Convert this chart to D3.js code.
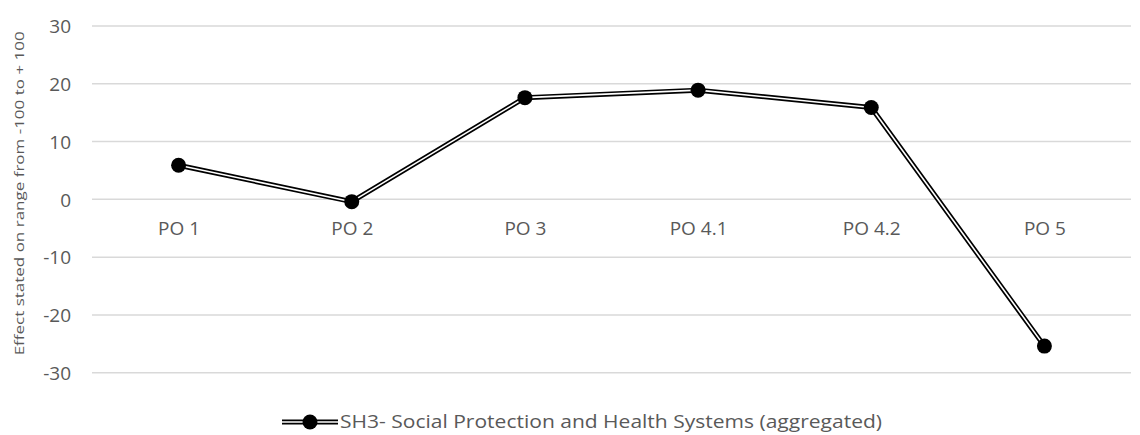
<!DOCTYPE html>
<html>
<head>
<meta charset="utf-8">
<script src="https://cdn.jsdelivr.net/npm/d3@7"></script>
<style>
  html, body { margin: 0; padding: 0; background: #fff; }
  svg { display: block; }
  text { font-family: "Open Sans", "Noto Sans", sans-serif; fill: #595959; }
</style>
</head>
<body>
<svg id="chart" width="1140" height="435"></svg>
<script>
// Programme objectives on the category axis
const categories = ["PO 1", "PO 2", "PO 3", "PO 4.1", "PO 4.2", "PO 5"];
// Aggregated effect per objective, on a -100..+100 scale
const values = [5.9, -0.4, 17.6, 18.9, 15.9, -25.4];
const yTicks = [-30, -20, -10, 0, 10, 20, 30];
const seriesName = "SH3- Social Protection and Health Systems (aggregated)";
const yTitle = "Effect stated on range from -100 to + 100";

const FONT = '"Open Sans", "Noto Sans", sans-serif';
const svg = d3.select("#chart");
const plot = { left: 92, right: 1131, top: 26, bottom: 372.7 };

const x = d3.scalePoint().domain(categories).range([plot.left, plot.right]).padding(0.5);
const y = d3.scaleLinear().domain([-30, 30]).range([plot.bottom, plot.top]);

// Horizontal gridlines
svg.append("g")
  .selectAll("line")
  .data(yTicks)
  .join("line")
  .attr("x1", plot.left).attr("x2", plot.right)
  .attr("y1", d => y(d)).attr("y2", d => y(d))
  .attr("stroke", "#d9d9d9").attr("stroke-width", 1.5);

// Value axis labels (plain hyphen for negatives)
const yAxis = svg.append("g")
  .attr("transform", `translate(${plot.left - 21},0)`)
  .call(d3.axisLeft(y).tickValues(yTicks).tickSize(0).tickPadding(0).tickFormat(d => String(d)));
yAxis.select(".domain").remove();
yAxis.selectAll("text")
  .attr("font-size", 19).attr("fill", "#595959")
  .style("font-family", FONT)
  .attr("dy", "0.35em");

// Category labels sitting just under the zero line
const xAxis = svg.append("g")
  .attr("transform", `translate(0,${y(0)})`)
  .call(d3.axisBottom(x).tickSize(0).tickPadding(0));
xAxis.select(".domain").remove();
xAxis.selectAll("text")
  .attr("font-size", 19).attr("fill", "#595959")
  .style("font-family", FONT)
  .attr("dy", null).attr("y", 36);

// Axis title
svg.append("text")
  .attr("transform", `translate(24,${(plot.top + plot.bottom) / 2 - 6}) rotate(-90)`)
  .attr("text-anchor", "middle")
  .attr("font-size", 13)
  .attr("textLength", 324).attr("lengthAdjust", "spacingAndGlyphs")
  .text(yTitle);

// Series line: black stroke with a white core
const line = d3.line().x((d, i) => x(categories[i])).y(d => y(d));
const series = svg.append("g");
series.append("path").datum(values)
  .attr("d", line).attr("fill", "none")
  .attr("stroke", "#000").attr("stroke-width", 5).attr("stroke-linejoin", "round");
series.append("path").datum(values)
  .attr("d", line).attr("fill", "none")
  .attr("stroke", "#fff").attr("stroke-width", 1.6).attr("stroke-linejoin", "round");
series.selectAll("circle")
  .data(values)
  .join("circle")
  .attr("cx", (d, i) => x(categories[i]))
  .attr("cy", d => y(d))
  .attr("r", 7.5)
  .attr("fill", "#000");

// Legend
const legend = svg.append("g").attr("transform", "translate(282,422)");
legend.append("line").attr("x1", 0).attr("x2", 56).attr("y1", 0).attr("y2", 0)
  .attr("stroke", "#000").attr("stroke-width", 5);
legend.append("line").attr("x1", 0).attr("x2", 56).attr("y1", 0).attr("y2", 0)
  .attr("stroke", "#fff").attr("stroke-width", 1.6);
legend.append("circle").attr("cx", 28).attr("cy", 0).attr("r", 7.5).attr("fill", "#000");
legend.append("text")
  .attr("x", 58).attr("y", 0).attr("dy", "0.35em")
  .attr("font-size", 18.5)
  .attr("textLength", 542).attr("lengthAdjust", "spacingAndGlyphs")
  .text(seriesName);
</script>
</body>
</html>
